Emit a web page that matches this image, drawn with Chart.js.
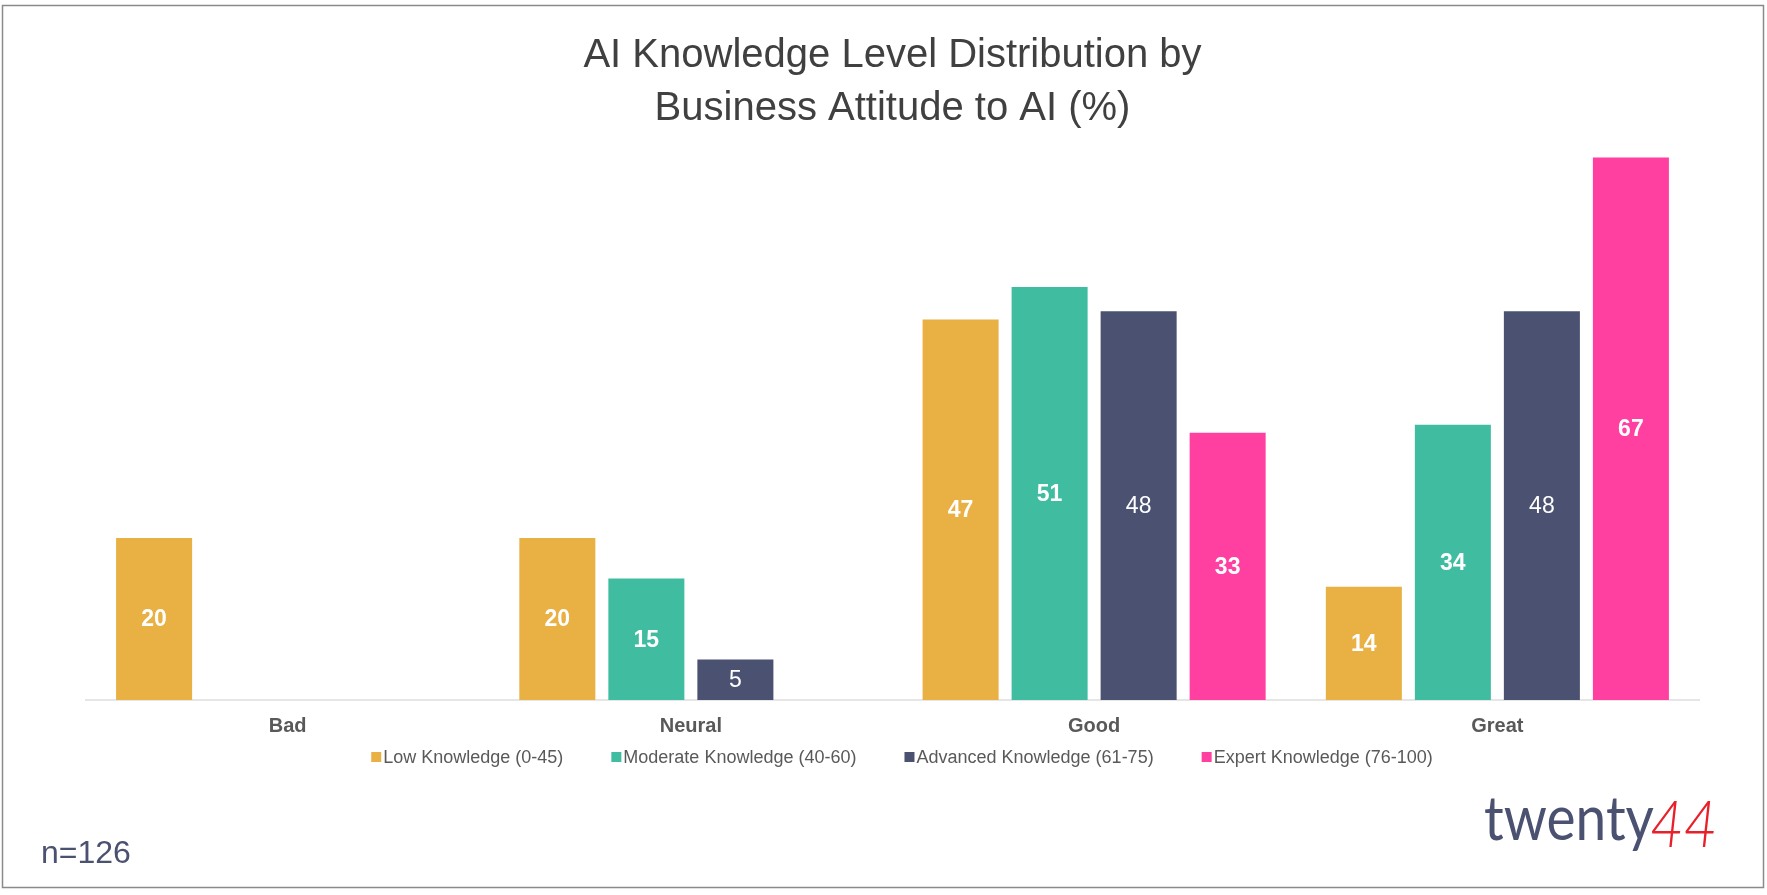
<!DOCTYPE html>
<html>
<head>
<meta charset="utf-8">
<title>AI Knowledge Level Distribution</title>
<script src="https://cdn.jsdelivr.net/npm/chart.js@4.4.0/dist/chart.umd.min.js"></script>
<style>
body { margin: 0; background: #fff; }
#wrap { position: relative; width: 1767px; height: 895px; }
</style>
</head>
<body>
<div id="wrap"><canvas id="attitudeChart" width="1767" height="895"></canvas></div>
<script>
// data
var categories = ["Bad", "Neural", "Good", "Great"];
var seriesNames = ["Low Knowledge (0-45)", "Moderate Knowledge (40-60)", "Advanced Knowledge (61-75)", "Expert Knowledge (76-100)"];
var lowKnowledge = [20, 20, 47, 14];
var moderateKnowledge = [null, 15, 51, 34];
var advancedKnowledge = [null, 5, 48, 48];
var expertKnowledge = [null, null, 33, 67];
var titleLines = ["AI Knowledge Level Distribution by", "Business Attitude to AI (%)"];
var sampleNote = "n=126";

var colors = ["#E9B043", "#40BDA0", "#4B5170", "#FF40A0"];
var FONT = "'Liberation Sans', Arial, Helvetica, sans-serif";

function makeSet(i, values) {
    return {
        label: seriesNames[i],
        data: values,
        backgroundColor: colors[i],
        borderWidth: 0,
        categoryPercentage: 0.883,
        barPercentage: 0.854
    };
}

// values in the middle of each bar
var barLabels = {
    id: "barLabels",
    afterDatasetsDraw: function(chart) {
        var ctx = chart.ctx;
        ctx.save();
        ctx.fillStyle = "#fff";
        ctx.textAlign = "center";
        ctx.textBaseline = "middle";
        chart.data.datasets.forEach(function(ds, di) {
            var meta = chart.getDatasetMeta(di);
            ctx.font = (di == 2 ? "normal" : "bold") + " 23px " + FONT;
            meta.data.forEach(function(bar, j) {
                var v = ds.data[j];
                if (v == null || v === 0) return;
                ctx.fillText(String(v), bar.x, (bar.y + bar.base) / 2 + 1);
            });
        });
        ctx.restore();
    }
};

// legend, footnote, logo and frame
var extras = {
    id: "extras",
    afterDraw: function(chart) {
        var ctx = chart.ctx;
        ctx.save();

        // legend
        ctx.font = "18px " + FONT;
        var gap = 48, box = 10, textOff = 12;
        var widths = chart.data.datasets.map(function(ds) { return ctx.measureText(ds.label).width; });
        var total = 0;
        widths.forEach(function(w) { total += textOff + w; });
        total += gap * (widths.length - 1);
        var x = 902 - total / 2, y = 757;
        ctx.textBaseline = "middle";
        ctx.textAlign = "left";
        chart.data.datasets.forEach(function(ds, i) {
            ctx.fillStyle = ds.backgroundColor;
            ctx.fillRect(x, y - box / 2, box, box);
            ctx.fillStyle = "#595959";
            ctx.fillText(ds.label, x + textOff, y + 1);
            x += textOff + widths[i] + gap;
        });

        // sample size
        ctx.font = "32px " + FONT;
        ctx.fillStyle = "#4B5170";
        ctx.fillText(sampleNote, 41, 854);

        // logo
        ctx.textBaseline = "alphabetic";
        ctx.save();
        ctx.translate(1484, 840);
        ctx.scale(1, 1.12);
        ctx.font = "normal 55px Lato, " + FONT;
        ctx.fillStyle = "#4B5170";
        ctx.fillText("twenty", 0, 0);
        var tw = ctx.measureText("twenty").width;
        ctx.font = "italic 300 58px Lato, " + FONT;
        ctx.fillStyle = "#E8202A";
        ctx.fillText("44", tw - 4, 6);
        ctx.restore();

        // frame
        ctx.strokeStyle = "#8a8a8a";
        ctx.lineWidth = 1.5;
        ctx.strokeRect(2.5, 5.5, 1761, 882);
        ctx.restore();
    }
};

var attitudeChart = new Chart(document.getElementById("attitudeChart").getContext("2d"), {
    type: "bar",
    data: {
        labels: categories,
        datasets: [
            makeSet(0, lowKnowledge),
            makeSet(1, moderateKnowledge),
            makeSet(2, advancedKnowledge),
            makeSet(3, expertKnowledge)
        ]
    },
    options: {
        responsive: false,
        animation: false,
        devicePixelRatio: 1,
        layout: { padding: { top: 0, left: 86, right: 68, bottom: 143 } },
        plugins: {
            legend: { display: false },
            tooltip: { enabled: false },
            title: {
                display: true,
                text: titleLines,
                color: "#404040",
                font: { family: FONT, size: 40, weight: "normal", lineHeight: 1.32 },
                padding: { top: 30, bottom: 0 }
            }
        },
        scales: {
            x: {
                grid: { display: false, drawTicks: false },
                border: { display: true, color: "#e6e6e6", width: 2 },
                ticks: {
                    color: "#595959",
                    padding: 14,
                    font: { family: FONT, size: 20, weight: "bold" }
                }
            },
            y: { display: false, min: 0, max: 69.7 }
        }
    },
    plugins: [barLabels, extras]
});
</script>
</body>
</html>
